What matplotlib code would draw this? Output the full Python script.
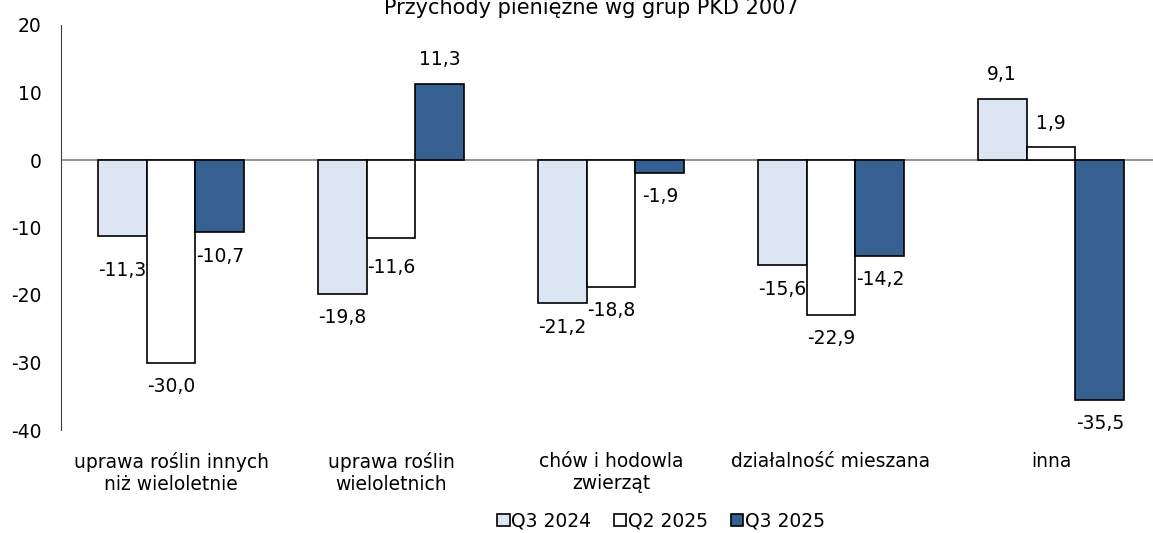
import numpy as np
import matplotlib
matplotlib.use("Agg")
import matplotlib.pyplot as plt

categories = ["uprawa roślin innych\nniż wieloletnie", "uprawa roślin\nwieloletnich",
              "chów i hodowla\nzwierząt", "działalność mieszana", "inna"]
series_names = ["Q3 2024", "Q2 2025", "Q3 2025"]
q3_2024 = [-11.3, -19.8, -21.2, -15.6, 9.1]
q2_2025 = [-30.0, -11.6, -18.8, -22.9, 1.9]
q3_2025 = [-10.7, 11.3, -1.9, -14.2, -35.5]
yticks = [-40, -30, -20, -10, 0, 10, 20]

colors = ["#DCE6F2", "#FFFFFF", "#376092"]
# small manual label nudges (series index, category index) -> (dx px, dy px)
nudges = {(0, 0): (0, -10), (1, 1): (0, -5)}

plt.rcParams['font.family'] = ['DejaVu Sans']
plt.rcParams['font.size'] = 13.5
plt.rcParams['axes.unicode_minus'] = False

fig = plt.figure(figsize=(11.53, 5.33), dpi=100)
ax = fig.add_axes([61 / 1153, 103 / 533, 1100 / 1153, 405 / 533])

x = np.arange(len(categories))
w = 0.222
data = [q3_2024, q2_2025, q3_2025]
for i, (vals, col, name) in enumerate(zip(data, colors, series_names)):
    pos = x + (i - 1) * w
    ax.bar(pos, vals, width=w, color=col, edgecolor="black", linewidth=1.2,
           label=name, zorder=3)
    for j, (p, v) in enumerate(zip(pos, vals)):
        dx, dy = nudges.get((i, j), (0, 0))
        off = 24 if v >= 0 else -24
        ax.annotate(f"{v:.1f}".replace(".", ","), (p, v),
                    xytext=(dx * 0.72, (off + dy) * 0.72), textcoords="offset points",
                    ha="center", va="center", fontsize=13.5)

ax.axhline(0, color="#808080", linewidth=1.2, zorder=2)
ax.set_xlim(-0.5, len(categories) - 0.5)
ax.set_ylim(-40, 20)
ax.set_yticks(yticks)
ax.set_xticks(x)
ax.set_xticklabels(categories)
ax.tick_params(axis="y", length=0, pad=14, labelsize=13.5)
ax.tick_params(axis="x", length=0, pad=16, labelsize=13.5)
for s in ["top", "right", "bottom"]:
    ax.spines[s].set_visible(False)
ax.spines["left"].set_color("#404040")

fig.text(591 / 1153, 1 - 14 / 533, "Przychody pieniężne wg grup PKD 2007",
         ha="center", va="baseline", fontsize=15)

fig.legend(loc="center", bbox_to_anchor=(661 / 1153, 1 - 521 / 533), ncol=3,
           frameon=False, handlelength=0.65, handleheight=0.65, handletextpad=0.1,
           columnspacing=1.2, fontsize=13.5)

fig.savefig("out.png", dpi=100)
